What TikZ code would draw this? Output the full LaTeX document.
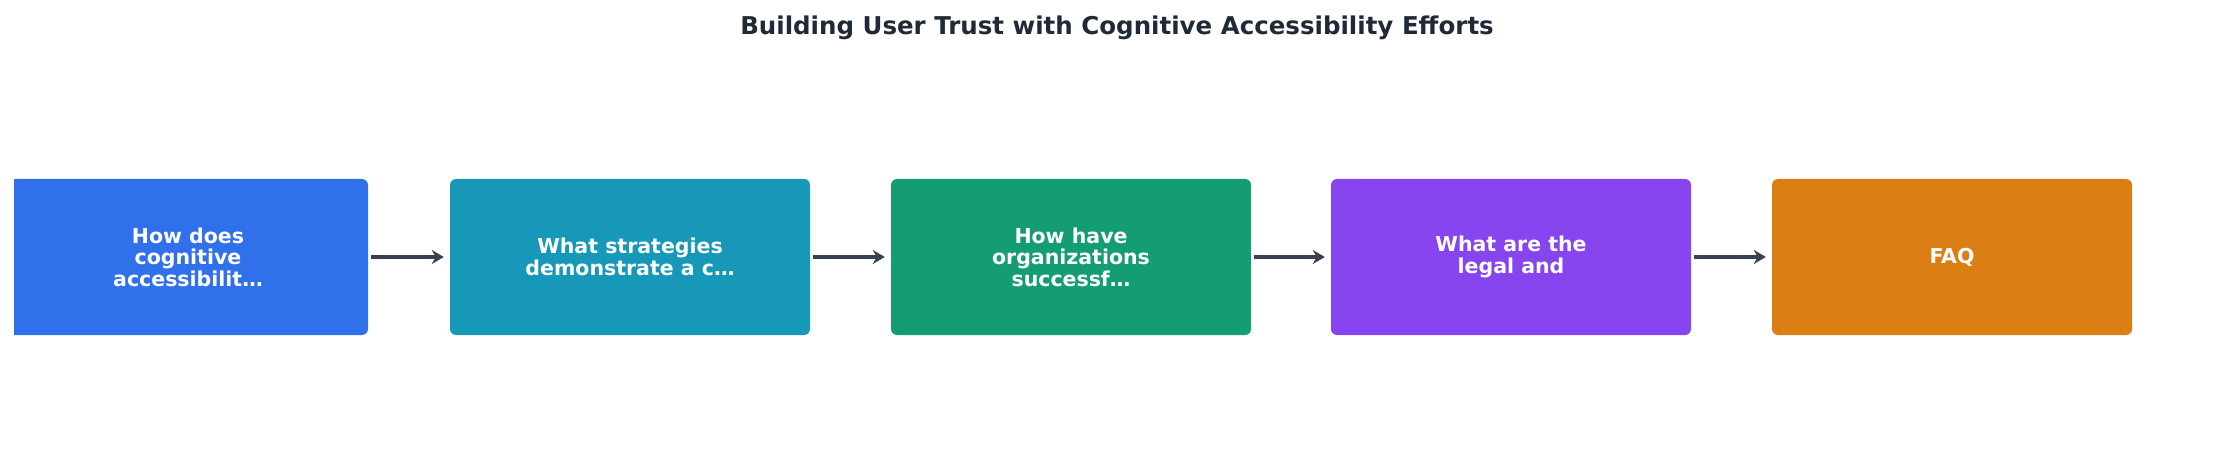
\documentclass[tikz,border=0pt]{standalone}
\usepackage{fontspec}
\setmainfont{DejaVu Sans}
\usetikzlibrary{arrows.meta}
\definecolor{cA}{HTML}{3170EB}
\definecolor{cB}{HTML}{1798B8}
\definecolor{cC}{HTML}{149C72}
\definecolor{cD}{HTML}{8645EE}
\definecolor{cE}{HTML}{DB7F14}
\definecolor{ttl}{HTML}{1F2937}
\definecolor{arr}{HTML}{374151}
\tikzset{
 box/.style={rounded corners=6pt,minimum width=360pt,minimum height=156pt,inner sep=0pt,text=white,align=center,font=\fontsize{20.5}{21.5}\selectfont\bfseries},
 conn/.style={draw=arr,line width=4pt,-{Stealth[length=12pt,width=14pt]}}
}
\begin{document}
\begin{tikzpicture}[x=1pt,y=-1pt]
\useasboundingbox (0,0) rectangle (2235,462);
\node[font=\fontsize{24.5}{28}\selectfont\bfseries,text=ttl] (t) at (1117,28) {Building User Trust with Cognitive Accessibility Efforts};
\begin{scope}
\clip (14,0) rectangle (2235,462);
\node[box,fill=cA] (a) at (188,257) {How does\\cognitive\\accessibilit…};
\end{scope}
\node[box,fill=cB] (b) at (630,257) {What strategies\\demonstrate a c…};
\node[box,fill=cC] (c) at (1071,257) {How have\\organizations\\successf…};
\node[box,fill=cD] (d) at (1511,257) {What are the\\legal and};
\node[box,fill=cE] (e) at (1952,257) {FAQ};
\draw[conn] ([xshift=3pt]a.east) -- ([xshift=-6pt]b.west);
\draw[conn] ([xshift=3pt]b.east) -- ([xshift=-6pt]c.west);
\draw[conn] ([xshift=3pt]c.east) -- ([xshift=-6pt]d.west);
\draw[conn] ([xshift=3pt]d.east) -- ([xshift=-6pt]e.west);
\end{tikzpicture}
\end{document}
